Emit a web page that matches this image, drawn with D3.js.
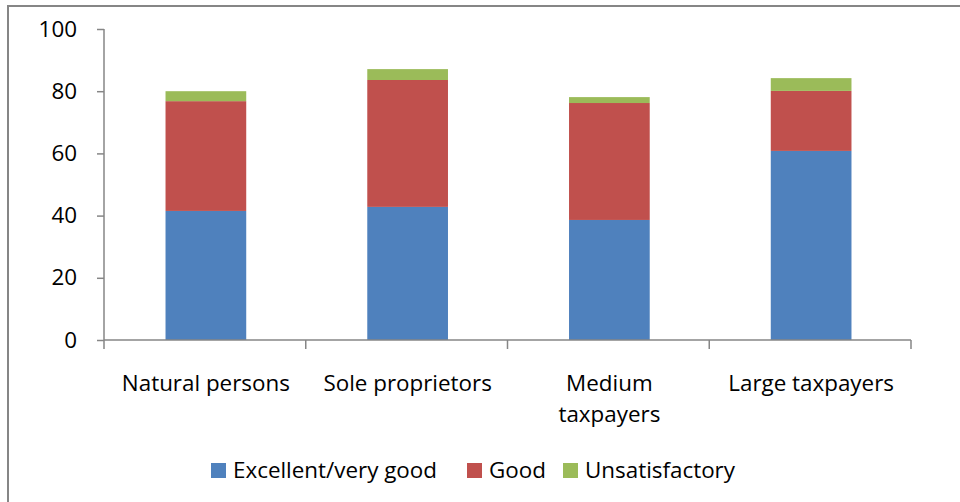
<!DOCTYPE html>
<html>
<head>
<meta charset="utf-8">
<script src="https://cdn.jsdelivr.net/npm/d3@7"></script>
<style>
  html, body { margin: 0; padding: 0; background: #fff; }
  svg { display: block; }
  text { font-family: "Open Sans", "Lato", sans-serif; fill: #000; }
</style>
</head>
<body>
<svg id="chart" width="960" height="502"></svg>
<script>
const categories = ["Natural persons", "Sole proprietors", "Medium taxpayers", "Large taxpayers"];
const categoryLines = [["Natural persons"], ["Sole proprietors"], ["Medium", "taxpayers"], ["Large taxpayers"]];
const seriesNames = ["Excellent/very good", "Good", "Unsatisfactory"];
const excellent = [41.5, 42.8, 38.6, 60.8];
const good = [35.3, 40.8, 37.6, 19.3];
const unsatisfactory = [3.2, 3.5, 1.9, 4.1];
const yTicks = [0, 20, 40, 60, 80, 100];
const colors = ["#4F81BD", "#C0504D", "#9BBB59"];

const svg = d3.select("#chart");
const fontSize = 22.4;

// outer chart border (partly cropped in reference)
svg.append("rect")
  .attr("x", 8).attr("y", 6)
  .attr("width", 1000).attr("height", 600)
  .attr("fill", "none").attr("stroke", "#868686").attr("stroke-width", 2);

const x = d3.scaleBand().domain(categories).range([104, 911])
  .paddingInner(0.6).paddingOuter(0.3);
const y = d3.scaleLinear().domain([0, 100]).range([340, 29]);

const rows = categories.map((c, i) => ({
  cat: c,
  [seriesNames[0]]: excellent[i],
  [seriesNames[1]]: good[i],
  [seriesNames[2]]: unsatisfactory[i]
}));
const stacked = d3.stack().keys(seriesNames)(rows);

svg.append("g").selectAll("g").data(stacked).join("g")
  .attr("fill", (d, i) => colors[i])
  .selectAll("rect").data(d => d).join("rect")
  .attr("x", d => x(d.data.cat) + 1)
  .attr("width", x.bandwidth())
  .attr("y", d => y(d[1]))
  .attr("height", d => y(d[0]) - y(d[1]));

// y axis
const yAxis = svg.append("g").attr("transform", "translate(104,0)")
  .call(d3.axisLeft(y).tickValues(yTicks).tickSize(7).tickPadding(20).tickFormat(d3.format("d")));
yAxis.select(".domain").attr("stroke", "#868686").attr("stroke-width", 1.5).attr("d", "M0,29V340");
yAxis.selectAll(".tick line").attr("stroke", "#868686").attr("stroke-width", 1.5);
yAxis.selectAll(".tick text").attr("font-size", fontSize).attr("font-family", "'Open Sans', sans-serif").attr("fill", "#000");

// x axis line with boundary ticks
const step = x.step();
const r = x.range();
const boundaries = categories.map(c => x(c) + x.bandwidth() / 2 - step / 2).concat([r[1]]);
const xAxis = svg.append("g");
xAxis.append("line").attr("x1", r[0]).attr("x2", r[1]).attr("y1", y(0)).attr("y2", y(0))
  .attr("stroke", "#868686").attr("stroke-width", 1.5);
xAxis.selectAll("line.tk").data(boundaries).join("line").attr("class", "tk")
  .attr("x1", d => d).attr("x2", d => d).attr("y1", y(0)).attr("y2", y(0) + 9)
  .attr("stroke", "#868686").attr("stroke-width", 1.5);

// category labels
const labels = svg.append("g").selectAll("text").data(categories).join("text")
  .attr("text-anchor", "middle")
  .attr("font-size", fontSize)
  .attr("x", c => x(c) + x.bandwidth() / 2 + 1)
  .attr("y", 391);
labels.each(function(c, i) {
  const t = d3.select(this);
  categoryLines[i].forEach((line, j) => {
    t.append("tspan").attr("x", x(c) + x.bandwidth() / 2 + 1).attr("dy", j === 0 ? 0 : 31).text(line);
  });
});

// legend
const legendItems = [
  { name: seriesNames[0], color: colors[0], x: 211 },
  { name: seriesNames[1], color: colors[1], x: 467 },
  { name: seriesNames[2], color: colors[2], x: 563 }
];
const lg = svg.append("g").selectAll("g").data(legendItems).join("g")
  .attr("transform", d => `translate(${d.x},0)`);
lg.append("rect").attr("x", 0).attr("y", 463).attr("width", 15).attr("height", 15).attr("fill", d => d.color);
lg.append("text").attr("x", 22).attr("y", 478).attr("font-size", fontSize).text(d => d.name);
</script>
</body>
</html>
